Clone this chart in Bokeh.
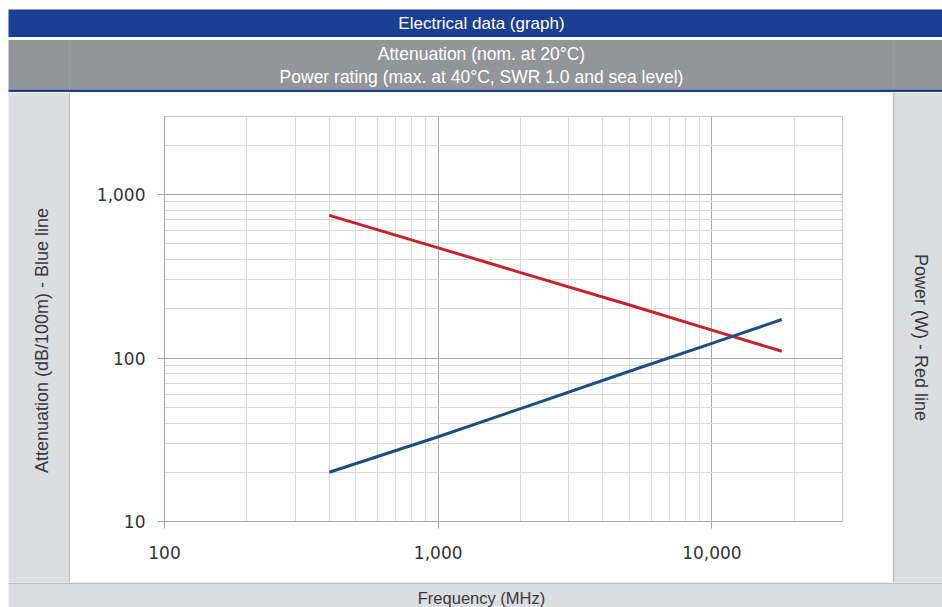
import math
from bokeh.plotting import figure
from bokeh.layouts import column, row
from bokeh.models import FixedTicker, NumeralTickFormatter, Range1d
from bokeh.core.properties import value
from bokeh.embed import file_html
from bokeh.resources import INLINE

# ---- data ----
freq_mhz = [400, 1000, 2000, 5000, 10000, 18000]
attenuation_db = [20, 33, 49, 83, 123, 172]      # blue line
power_w = [745, 472, 333, 211, 148, 110]         # red line

x_major_ticks = [100, 1000, 10000]
x_minor_ticks = [200, 300, 400, 500, 600, 700, 800, 900,
                 2000, 3000, 4000, 5000, 6000, 7000, 8000, 9000, 20000, 30000]
y_major_ticks = [10, 100, 1000]
y_minor_ticks = [20, 30, 40, 50, 60, 70, 80, 90,
                 200, 300, 400, 500, 600, 700, 800, 900, 2000, 3000]

header_title = "Electrical data (graph)"
sub_line1 = "Attenuation (nom. at 20°C)"
sub_line2 = "Power rating (max. at 40°C, SWR 1.0 and sea level)"
x_title = "Frequency (MHz)"
y_left_title = "Attenuation (dB/100m) - Blue line"
y_right_title = "Power (W) - Red line"

BLUE = "#1b3f94"
GRAY = "#939598"
PANEL = "#dcdde0"
EDGE = "#c0c1c4"
TXT = "#3a3a3a"
FONT = "Liberation Sans"


# ---- helper: a decoration strip drawn in its own pixel space ----
class Strip:
    def __init__(self, w, h, x0, y0):
        self.w, self.h, self.x0, self.y0 = w, h, x0, y0
        f = figure(width=w, height=h, x_range=Range1d(0, w), y_range=Range1d(0, h),
                   toolbar_location=None, output_backend="svg",
                   x_axis_location=None, y_axis_location=None, min_border=0,
                   frame_align=False)
        f.grid.visible = False
        f.outline_line_color = None
        f.background_fill_color = "white"
        f.border_fill_color = "white"
        self.f = f

    def box(self, l, t, r, b, color):
        self.f.quad(left=[l - self.x0], right=[r - self.x0],
                    top=[self.h - (t - self.y0)], bottom=[self.h - (b - self.y0)],
                    fill_color=color, line_color=None)

    def text(self, x, y, txt, size, color, angle=0.0):
        self.f.text(x=[x - self.x0], y=[self.h - (y - self.y0)], text=[txt],
                    text_font=value(FONT), text_font_size=value(size),
                    text_color=color, text_align="center", text_baseline="middle",
                    angle=angle)


# header (page y 0..92)
head = Strip(942, 92, 0, 0)
head.box(8, 9, 942, 36.5, BLUE)
head.box(8, 39.5, 942, 89, GRAY)
head.box(8, 89, 942, 92, BLUE)
head.box(68.5, 39.5, 69.5, 89, "#9b9c9f")
head.box(892.5, 39.5, 893.5, 89, "#9b9c9f")
head.text(481, 23, header_title, "17px", "white")
head.text(481, 53, sub_line1, "17.5px", "white")
head.text(481, 76, sub_line2, "17.5px", "white")

# left side panel (page x 0..70, y 92..582)
left = Strip(70, 490, 0, 92)
left.box(8, 92, 68, 582, PANEL)
left.box(68, 92, 70, 582, EDGE)
left.text(41, 340, y_left_title, "18px", TXT, angle=math.pi / 2)

# right side panel (page x 892..942)
right = Strip(50, 490, 892, 92)
right.box(894, 92, 942, 582, PANEL)
right.box(892, 92, 894, 582, EDGE)
right.text(920, 337, y_right_title, "18px", TXT, angle=-math.pi / 2)

# bottom band (page y 582..607)
bottom = Strip(942, 25, 0, 582)
bottom.box(8, 582, 942, 607, PANEL)
bottom.box(8, 582, 942, 583.5, EDGE)
bottom.text(481, 597, x_title, "16.5px", TXT)

# ---- main chart (page x 70..892, y 92..582; frame 164..842 x 116..521) ----
p = figure(width=822, height=490, x_axis_type="log", y_axis_type="log",
           x_range=Range1d(100, 30000), y_range=Range1d(10, 3000),
           output_backend="svg", toolbar_location=None, title=None,
           min_border_left=94, min_border_right=50,
           min_border_top=24, min_border_bottom=61, frame_align=False)
p.background_fill_color = "white"
p.border_fill_color = "white"
p.outline_line_color = "#c8c8c8"

for ax, maj, mino in ((p.xaxis[0], x_major_ticks, x_minor_ticks),
                      (p.yaxis[0], y_major_ticks, y_minor_ticks)):
    ax.ticker = FixedTicker(ticks=maj, minor_ticks=mino)
    ax.formatter = NumeralTickFormatter(format="0,0")
    ax.axis_line_color = "#a8a8a8"
    ax.major_tick_line_color = "#a8a8a8"
    ax.major_tick_out = 7
    ax.major_tick_in = 0
    ax.minor_tick_out = 0
    ax.minor_tick_in = 0
    ax.major_label_text_font = "DejaVu Sans"
    ax.major_label_text_font_size = "17px"
    ax.major_label_text_color = "#333333"
p.xaxis[0].major_label_standoff = 17
p.yaxis[0].major_label_standoff = 12

for g in p.grid:
    g.grid_line_color = "#a8a8a8"
    g.grid_line_width = 1
    g.minor_grid_line_color = "#d9d9d9"
    g.minor_grid_line_width = 1

p.line(freq_mhz, power_w, line_color="#c8232c", line_width=3)
p.line(freq_mhz, attenuation_db, line_color="#1c4f80", line_width=3)

layout = column(head.f, row(left.f, p, right.f), bottom.f)

open("out.html", "w").write(file_html(layout, INLINE))
